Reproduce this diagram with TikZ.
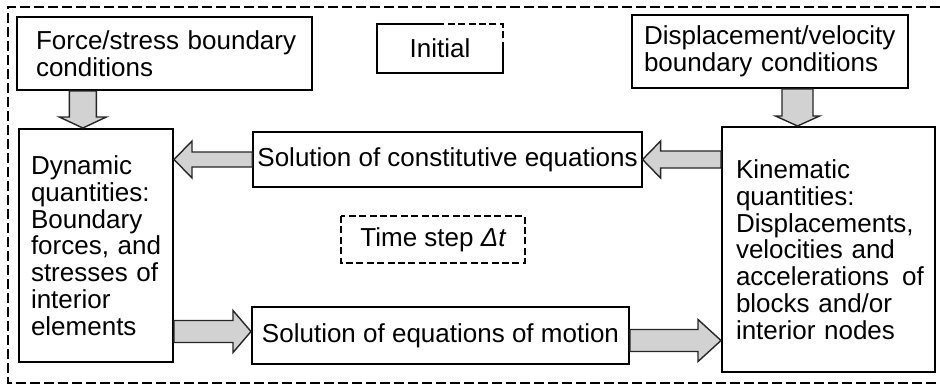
\documentclass[tikz,border=0pt]{standalone}
\usepackage{fontspec}
\setmainfont{Liberation Sans}
\usepackage{tikz}
\usetikzlibrary{calc}

\tikzset{
  box/.style={draw, line width=1pt, align=left, inner ysep=0pt,
    font=\fontsize{13pt}{13.4pt}\selectfont},
  blockarrow/.style={draw=black!85, fill=gray!35, line width=0.7pt, line join=miter},
  outerframe/.style={line width=0.8pt, dash pattern=on 5pt off 2pt},
  stepframe/.style={line width=1pt, dash pattern=on 3.5pt off 1.7pt}
}

% #1 shaft half width, #2 head half width, #3 head length, #4 from, #5 to
\newcommand{\blockarrow}[5]{%
  \coordinate (hb) at ($(#5)!#3!(#4)$);
  \draw[blockarrow] ($(#4)!#1!90:(#5)$) -- ($(hb)!#1!90:(#5)$)
    -- ($(hb)!#2!90:(#5)$) -- (#5) -- ($(hb)!#2!-90:(#5)$)
    -- ($(hb)!#1!-90:(#5)$) -- ($(#4)!#1!-90:(#5)$) -- cycle;
}

\begin{document}
\begin{tikzpicture}[x=0.5pt,y=-0.5pt]

\useasboundingbox (0,0) rectangle (940,387);

% outer dashed frame
\draw[outerframe] (940,7) -- (8,7) -- (8,383) -- (940,383);

\node[box, text width=128.5pt, inner xsep=9.5pt, minimum height=36.5pt] (force) at (164.5,53.5)
  {\mbox{Force/stress boundary}\\\mbox{conditions}};
\node[box, draw=none, minimum width=62pt, minimum height=23.5pt, align=center] (initial) at (440,48.5)
  {Initial};
\node[box, text width=126pt, inner xsep=6pt, minimum height=36.5pt] (disp) at (770,51.5)
  {\mbox{Displacement/velocity}\\\mbox{boundary conditions}};

\node[box, text width=65pt, inner xsep=6pt, minimum height=116.5pt] (dyn) at (96,245.5)
  {\mbox{Dynamic}\\\mbox{quantities:}\\\mbox{Boundary}\\\mbox{forces, and}\\\mbox{stresses of}\\\mbox{interior}\\\mbox{elements}};
\node[box, text width=92.5pt, inner xsep=7pt, minimum height=122.5pt] (kin) at (828.5,249.5)
  {\mbox{Kinematic}\\\mbox{quantities:}\\\mbox{Displacements,}\\\mbox{velocities and}\\\mbox{accelerations\enspace of}\\\mbox{blocks and/or}\\\mbox{interior nodes}};

\node[box, minimum width=193.5pt, minimum height=27.5pt, align=center, inner xsep=2pt] (const) at (447.5,159.5)
  {Solution of constitutive equations};
\node[box, draw=none, minimum width=91pt, minimum height=22.5pt, align=center] (tstep) at (433,239.5)
  {Time step {\itshape Δt}};
\node[box, minimum width=188.5pt, minimum height=28.5pt, align=center] (motion) at (440.5,335.5)
  {Solution of equations of motion};

% initial box, partly dashed
\draw[line width=1pt] (initial.north) -- (initial.north west) -- (initial.south west)
  -- (initial.south east) -- (initial.east);
\draw[stepframe] (initial.east) -- (initial.north east) -- (initial.north);
\draw[stepframe] (tstep.north west) rectangle (tstep.south east);

% block arrows
\coordinate (f1) at ($(force.south west)!0.225!(force.south east)$);
\coordinate (d1) at ($(disp.south west)!0.599!(disp.south east)$);
\blockarrow{6.75pt}{11.75pt}{5.5pt}{f1}{f1 |- dyn.north}
\blockarrow{7.75pt}{11pt}{5pt}{d1}{d1 |- kin.north}
\blockarrow{3.75pt}{9.25pt}{9pt}{const.west}{const.west -| dyn.east}
\blockarrow{4.25pt}{9.25pt}{9pt}{const.east -| kin.west}{const.east}

\coordinate (m1) at ([yshift=2pt]motion.west);
\coordinate (m2) at ([yshift=-2.5pt]motion.east);
\blockarrow{5.5pt}{10.5pt}{9pt}{m1 -| dyn.east}{m1}
\blockarrow{5.5pt}{10.5pt}{11.5pt}{m2}{m2 -| kin.west}

\end{tikzpicture}
\end{document}
